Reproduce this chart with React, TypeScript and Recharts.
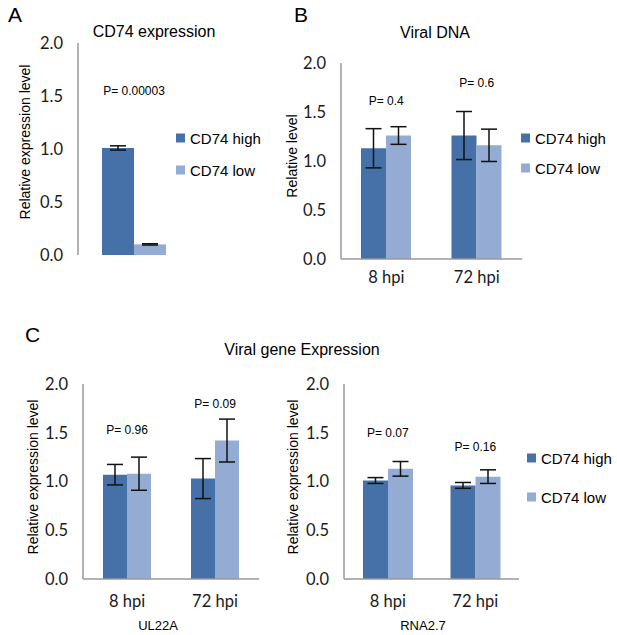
import React from 'react';
import { BarChart, Bar, XAxis, YAxis, ErrorBar, ReferenceDot } from 'recharts';

// series
const seriesNames = ['CD74 high', 'CD74 low'];
const seriesColors = ['#4571a8', '#94abd3'];
const yTicks = [0, 0.5, 1, 1.5, 2];

// panel A - CD74 expression
const cd74Categories = ['CD74'];
const cd74High = [1.01];
const cd74HighErr = [0.02];
const cd74Low = [0.1];
const cd74LowErr = [0.006];
const cd74PValues = ['P= 0.00003'];

// panel B - viral DNA
const timeCategories = ['8 hpi', '72 hpi'];
const dnaHigh = [1.13, 1.26];
const dnaHighErr = [0.2, 0.245];
const dnaLow = [1.26, 1.16];
const dnaLowErr = [0.09, 0.165];
const dnaPValues = ['P= 0.4', 'P= 0.6'];

// panel C - viral gene expression
const ul22aHigh = [1.07, 1.03];
const ul22aHighErr = [0.105, 0.205];
const ul22aLow = [1.08, 1.42];
const ul22aLowErr = [0.17, 0.22];
const ul22aPValues = ['P= 0.96', 'P= 0.09'];

const rnaHigh = [1.01, 0.96];
const rnaHighErr = [0.03, 0.03];
const rnaLow = [1.13, 1.05];
const rnaLowErr = [0.075, 0.07];
const rnaPValues = ['P= 0.07', 'P= 0.16'];

const SANS = '"Liberation Sans", Arial, sans-serif';
const TICK_FONT = 'Lato, "Open Sans", sans-serif';
const AXIS_GREY = '#9a9a9a';

const CenterText = ({ x, y, size, children }: any) => (
  <div
    style={{
      position: 'absolute',
      left: x,
      top: y,
      transform: 'translate(-50%, -50%)',
      whiteSpace: 'nowrap',
      fontFamily: SANS,
      fontSize: size,
      lineHeight: 1,
      color: '#000',
    }}
  >
    {children}
  </div>
);

const LegendBlock = ({ x, ys }: { x: number; ys: number[] }) => (
  <>
    {seriesNames.map((name, i) => (
      <div
        key={name}
        style={{
          position: 'absolute',
          left: x,
          top: ys[i],
          transform: 'translateY(-50%)',
          display: 'flex',
          alignItems: 'center',
          fontFamily: SANS,
          fontSize: 15,
          lineHeight: 1,
          whiteSpace: 'nowrap',
        }}
      >
        <span style={{ width: 9, height: 9, background: seriesColors[i], marginRight: 5, display: 'inline-block' }} />
        {name}
      </div>
    ))}
  </>
);

type PanelProps = {
  left: number;
  top: number;
  width: number;
  height: number;
  margin: { top: number; right: number; bottom: number; left: number };
  categories: string[];
  high: number[];
  highErr: number[];
  low: number[];
  lowErr: number[];
  pValues: string[];
  pHeights: number[];
  yLabel: string;
  yLabelPos: [number, number];
  xLabel?: string;
  xLabelPos?: [number, number];
  showXTicks: boolean;
  xAxisHeight: number;
  xTickOffset: number;
  barCategoryGap: number;
};

const tickStyle = { fill: '#1a1a1a', fontSize: 16.5, fontFamily: TICK_FONT, fontWeight: 400 };

const Panel = (p: PanelProps) => {
  const rows = p.categories.map((name, i) => ({
    name,
    high: p.high[i],
    highErr: p.highErr[i],
    low: p.low[i],
    lowErr: p.lowErr[i],
  }));
  return (
    <div style={{ position: 'absolute', left: p.left, top: p.top }}>
      <BarChart
        width={p.width}
        height={p.height}
        data={rows}
        margin={p.margin}
        barCategoryGap={p.barCategoryGap}
        barGap={0}
      >
        <XAxis
          dataKey="name"
          height={p.xAxisHeight}
          axisLine={{ stroke: AXIS_GREY, strokeWidth: 1.5 }}
          tickLine={false}
          tickSize={0}
          tickMargin={p.xTickOffset}
          tick={p.showXTicks ? tickStyle : false}
          label={
            p.xLabel
              ? () => (
                  <text
                    x={p.xLabelPos![0]}
                    y={p.xLabelPos![1]}
                    textAnchor="middle"
                    dominantBaseline="central"
                    fontSize={13}
                    fontFamily={SANS}
                    fill="#000"
                  >
                    {p.xLabel}
                  </text>
                )
              : undefined
          }
        />
        <YAxis
          width={40}
          domain={[0, 2]}
          ticks={yTicks}
          tickFormatter={(v: number) => v.toFixed(1)}
          axisLine={{ stroke: AXIS_GREY, strokeWidth: 1.5 }}
          tickLine={false}
          tickSize={0}
          tickMargin={15}
          tick={tickStyle}
          label={() => (
            <text
              x={p.yLabelPos[0]}
              y={p.yLabelPos[1]}
              transform={`rotate(-90, ${p.yLabelPos[0]}, ${p.yLabelPos[1]})`}
              textAnchor="middle"
              dominantBaseline="central"
              fontSize={14}
              fontFamily={SANS}
              fill="#000"
            >
              {p.yLabel}
            </text>
          )}
        />
        <Bar dataKey="high" name={seriesNames[0]} fill={seriesColors[0]} isAnimationActive={false}>
          <ErrorBar dataKey="highErr" width={8} stroke="#111" strokeWidth={1.5} isAnimationActive={false} />
        </Bar>
        <Bar dataKey="low" name={seriesNames[1]} fill={seriesColors[1]} isAnimationActive={false}>
          <ErrorBar dataKey="lowErr" width={8} stroke="#111" strokeWidth={1.5} isAnimationActive={false} />
        </Bar>
        {p.categories.map((c, i) => (
          <ReferenceDot
            key={c}
            x={c}
            y={p.pHeights[i]}
            r={0}
            fill="none"
            stroke="none"
            label={{ value: p.pValues[i], position: 'center', fill: '#000', fontSize: 12, fontFamily: SANS }}
          />
        ))}
      </BarChart>
    </div>
  );
};

export default function App() {
  return (
    <div
      style={{
        position: 'absolute',
        left: 0,
        top: 0,
        width: 617,
        height: 635,
        background: '#fff',
        overflow: 'hidden',
      }}
    >
      {/* panel letters and titles */}
      <div style={{ position: 'absolute', left: 8, top: 14, transform: 'translateY(-50%)', fontFamily: SANS, fontSize: 21, lineHeight: 1 }}>A</div>
      <div style={{ position: 'absolute', left: 294, top: 14, transform: 'translateY(-50%)', fontFamily: SANS, fontSize: 21, lineHeight: 1 }}>B</div>
      <div style={{ position: 'absolute', left: 25, top: 334, transform: 'translateY(-50%)', fontFamily: SANS, fontSize: 21, lineHeight: 1 }}>C</div>
      <CenterText x={154} y={32} size={16}>CD74 expression</CenterText>
      <CenterText x={435} y={33} size={16}>Viral DNA</CenterText>
      <CenterText x={302} y={350} size={16}>Viral gene Expression</CenterText>

      <Panel
        left={0}
        top={0}
        width={290}
        height={290}
        margin={{ top: 43, right: 100, bottom: 35, left: 38 }}
        categories={cd74Categories}
        high={cd74High}
        highErr={cd74HighErr}
        low={cd74Low}
        lowErr={cd74LowErr}
        pValues={cd74PValues}
        pHeights={[1.55]}
        yLabel="Relative expression level"
        yLabelPos={[25, 142]}
        showXTicks={false}
        xAxisHeight={0}
        xTickOffset={0}
        barCategoryGap={24}
      />
      <LegendBlock x={176} ys={[138, 170]} />

      <Panel
        left={280}
        top={0}
        width={337}
        height={300}
        margin={{ top: 63, right: 95, bottom: 11, left: 21 }}
        categories={timeCategories}
        high={dnaHigh}
        highErr={dnaHighErr}
        low={dnaLow}
        lowErr={dnaLowErr}
        pValues={dnaPValues}
        pHeights={[1.62, 1.8]}
        yLabel="Relative level"
        yLabelPos={[12, 156]}
        showXTicks
        xAxisHeight={30}
        xTickOffset={12}
        barCategoryGap={20}
      />
      <LegendBlock x={521} ys={[138, 168]} />

      <Panel
        left={0}
        top={320}
        width={280}
        height={315}
        margin={{ top: 64, right: 21, bottom: 6, left: 43 }}
        categories={timeCategories}
        high={ul22aHigh}
        highErr={ul22aHighErr}
        low={ul22aLow}
        lowErr={ul22aLowErr}
        pValues={ul22aPValues}
        pHeights={[1.53, 1.8]}
        yLabel="Relative expression level"
        yLabelPos={[33, 157]}
        xLabel="UL22A"
        xLabelPos={[158, 305]}
        showXTicks
        xAxisHeight={50}
        xTickOffset={16}
        barCategoryGap={20}
      />

      <Panel
        left={280}
        top={320}
        width={337}
        height={315}
        margin={{ top: 64, right: 98, bottom: 6, left: 24 }}
        categories={timeCategories}
        high={rnaHigh}
        highErr={rnaHighErr}
        low={rnaLow}
        lowErr={rnaLowErr}
        pValues={rnaPValues}
        pHeights={[1.5, 1.36]}
        yLabel="Relative expression level"
        yLabelPos={[13, 157]}
        xLabel="RNA2.7"
        xLabelPos={[143, 305]}
        showXTicks
        xAxisHeight={50}
        xTickOffset={16}
        barCategoryGap={19}
      />
      <LegendBlock x={527} ys={[458, 497]} />
    </div>
  );
}
